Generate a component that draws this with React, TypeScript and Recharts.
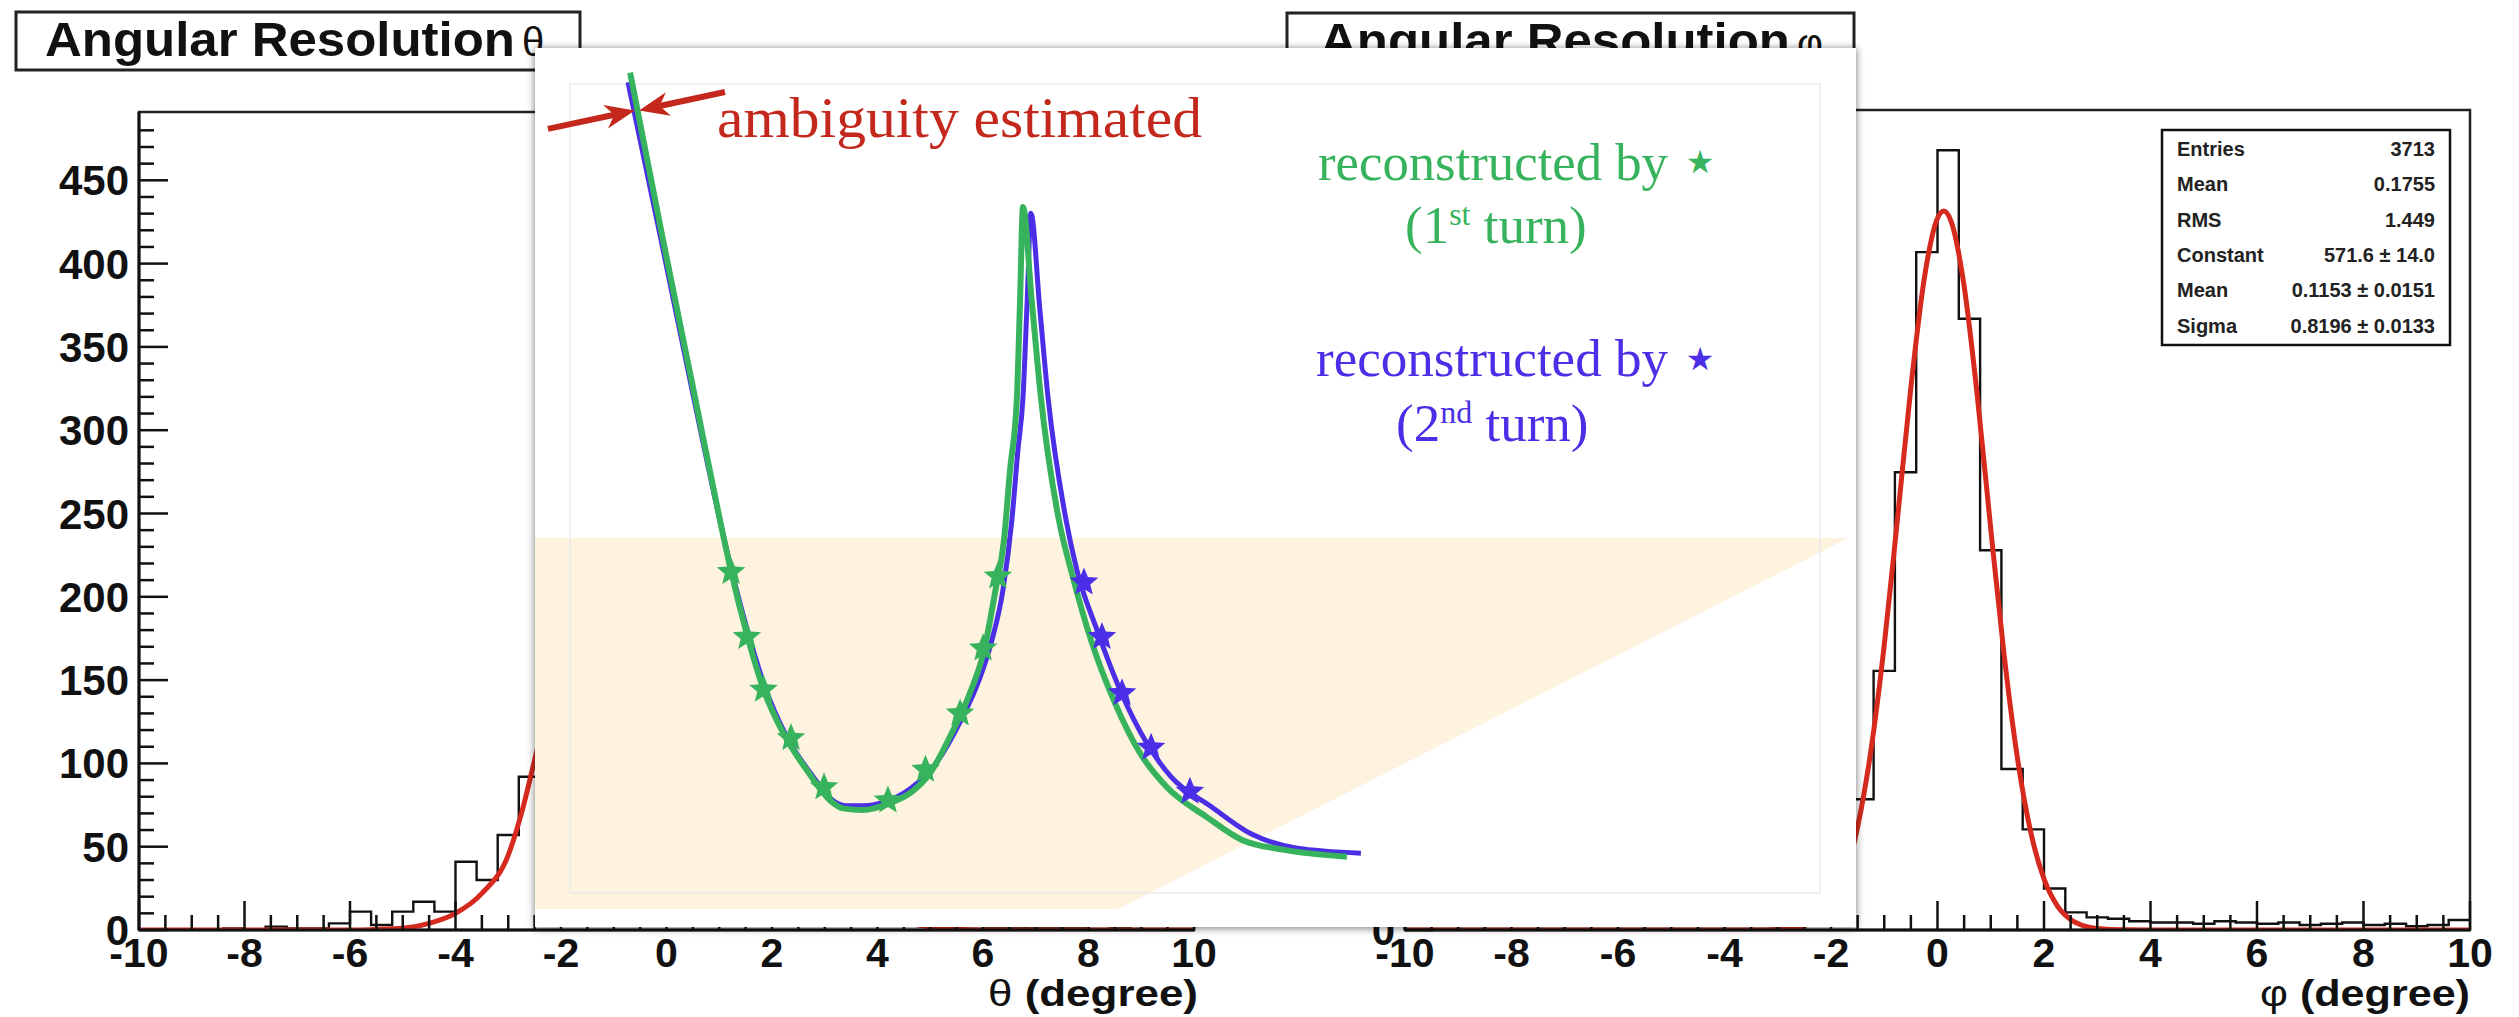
import React from "react";
import {
  Area,
  ComposedChart,
  Line,
  ReferenceArea,
  ReferenceLine,
  Scatter,
  XAxis,
  YAxis,
} from "recharts";

// ---- histogram data (ROOT style, 50 bins of width 0.4 over [-10, 10]) ----
const binLow = [
  -10, -9.6, -9.2, -8.8, -8.4, -8, -7.6, -7.2, -6.8, -6.4, -6, -5.6, -5.2, -4.8, -4.4, -4, -3.6, -3.2, -2.8, -2.4,
  -2, -1.6, -1.2, -0.8, -0.4, 0, 0.4, 0.8, 1.2, 1.6, 2, 2.4, 2.8, 3.2, 3.6, 4, 4.4, 4.8, 5.2, 5.6, 6, 6.4, 6.8,
  7.2, 7.6, 8, 8.4, 8.8, 9.2, 9.6,
];
const thetaCounts = [
  0, 0, 0, 0, 1, 0, 2, 1, 1, 4, 11, 3, 11, 17, 11, 41, 30, 57, 92, 140, 200, 262, 330, 395, 448, 467, 430, 370,
  300, 228, 160, 105, 62, 35, 20, 12, 8, 5, 4, 3, 2, 2, 1, 1, 1, 0, 1, 0, 0, 0,
];
const phiCounts = [
  5, 4, 6, 5, 4, 6, 5, 7, 6, 8, 7, 6, 9, 8, 10, 9, 12, 14, 18, 26, 45, 104, 206, 364, 539, 620, 486, 302, 128, 80,
  33, 14, 10, 9, 7, 6, 6, 5, 7, 6, 5, 6, 4, 5, 6, 4, 5, 3, 4, 8,
];

// gaussian fit curves
const fitX = [
  -10, -6, -5.5, -5, -4.5, -4, -3.5, -3, -2.75, -2.5, -2.25, -2, -1.75, -1.5, -1.25, -1, -0.75, -0.5, -0.25, 0,
  0.12, 0.25, 0.5, 0.75, 1, 1.25, 1.5, 1.75, 2, 2.25, 2.5, 2.75, 3, 3.5, 4, 4.5, 5, 5.5, 6, 10,
];
const thetaFit = [
  0, 0, 0.3, 1, 4, 10, 22, 45, 70, 102, 135, 170, 212, 255, 298, 340, 375, 405, 422, 430, 432, 430, 415, 392, 360,
  322, 280, 237, 195, 155, 120, 90, 65, 32, 14, 5, 2, 0.5, 0, 0,
];
const phiFit = [
  0, 0, 0, 0, 0, 0, 0, 0.4, 1.3, 3.5, 8.9, 20.5, 42.9, 82, 142.8, 226.6, 327.5, 431.4, 517.6, 566, 571.6, 564, 512,
  423.6, 319, 219, 137, 78, 40.6, 19.2, 8.3, 3.3, 1.2, 0.1, 0, 0, 0, 0, 0, 0,
];

const xTicks = Array.from({ length: 41 }, (_, i) => -10 + i * 0.5);
const thetaYTicks = Array.from({ length: 49 }, (_, i) => i * 10);
const phiYTicks = Array.from({ length: 33 }, (_, i) => i * 20);
// only the "0" of the phi axis peeks out from under the inset
const phiYLabels = [0];

const statLabels = ["Entries", "Mean", "RMS", "Constant", "Mean", "Sigma"];
const statValues = ["3713", "0.1755", "1.449", "571.6 \u00b1 14.0", "0.1153 \u00b1 0.0151", "0.8196 \u00b1 0.0133"];

// ---- inset (arbitrary units: x 0..50, y 0..100) ----
const firstTurnCurve = [
  [3.6, 97.2], [4.81, 78.7], [6.06, 60.2], [7.0, 46.3], [7.42, 40.5], [8.02, 33.3], [8.63, 27.2], [9.39, 22.1],
  [10.37, 17.5], [11.17, 14.4], [11.66, 13.5], [12.41, 13.3], [13.44, 14.1], [14.27, 15.4], [14.95, 17.5],
  [15.78, 22.1], [16.46, 26.6], [17.0, 31.5], [17.41, 38.0], [17.75, 44.0], [17.98, 52.0], [18.24, 60.2],
  [18.36, 71.3], [18.47, 81.9], [18.8, 71.3], [19.15, 60.2], [19.83, 46.3], [20.36, 39.8], [21.04, 32.7],
  [21.95, 25.5], [22.9, 19.8], [23.92, 15.9], [25.43, 12.5], [26.76, 9.9], [28.31, 8.8], [30.73, 8.0],
];
const secondTurnCurve = [
  [3.52, 96.1], [4.77, 78.2], [6.02, 60.0], [7.04, 45.7], [7.49, 40.0], [8.1, 33.1], [8.74, 27.0], [9.5, 21.8],
  [10.48, 17.3], [11.32, 14.3], [11.77, 13.8], [12.41, 13.8], [13.29, 14.3], [14.19, 15.7], [15.1, 18.3],
  [16.12, 23.5], [16.81, 28.1], [17.3, 32.7], [17.71, 38.3], [18.05, 46.3], [18.28, 54.3], [18.47, 60.2],
  [18.63, 71.3], [18.77, 81.2], [19.11, 70.2], [19.42, 60.2], [20.1, 46.3], [20.51, 40.6], [21.27, 33.8],
  [22.14, 27.0], [23.16, 20.9], [24.07, 17.1], [25.59, 13.7], [27.1, 10.6], [28.8, 9.0], [31.26, 8.4],
];
const firstTurnStars = [
  [7.42, 40.4], [8.02, 33.0], [8.65, 27.0], [9.69, 21.5], [10.94, 15.9], [13.36, 14.4], [14.78, 17.9],
  [16.09, 24.3], [16.96, 31.7], [17.52, 39.9],
];
const secondTurnStars = [[20.78, 39.2], [21.46, 33.0], [22.22, 26.6], [23.32, 20.4], [24.79, 15.4]];

const bandX = [0, 22.07, 49.7];
const bandLow = [2.05, 2.05, 44.25];
const bandHigh = [44.25, 44.25, 44.25];

// arrows pointing at the gap between the two curves: [tailX, tailY, tipX, tipY]
const ambiguityArrows = [
  [0.49, 90.8, 3.78, 92.9],
  [7.19, 95.0, 3.94, 92.9],
];
const insetFrame = [1.32, 48.64, 3.87, 95.9];

const SANS = '"Liberation Sans", Arial, Helvetica, sans-serif';
const SERIF = '"Liberation Serif", "Times New Roman", serif';
const INK = "#111";
const FIT_RED = "#d62a1e";
const GREEN = "#37b35d";
const BLUE = "#4a2fe6";
const ANNOT_RED = "#c4271b";
const H = 1017;

const toXY = (pairs: number[][]) => pairs.map(([x, y]) => ({ x, y }));

function xTick(p: any) {
  const { x, y, payload } = p;
  const v = payload.value;
  const major = Math.abs(v % 2) < 1e-9;
  return (
    <g>
      <line x1={x} y1={y} x2={x} y2={y - (major ? 29 : 15)} stroke={INK} strokeWidth={2.5} />
      {major && (
        <text x={x} y={y + 37} textAnchor="middle" fontFamily={SANS} fontWeight={700} fontSize={41} fill={INK}>
          {v}
        </text>
      )}
    </g>
  );
}

function makeYTick(majorStep: number, labels: number[] | null) {
  return (p: any) => {
    const { x, y, payload } = p;
    const v = payload.value;
    const major = v % majorStep === 0;
    const showLabel = major && (labels === null || labels.includes(v));
    return (
      <g>
        <line x1={x} y1={y} x2={x + (major ? 29 : 15)} y2={y} stroke={INK} strokeWidth={2.5} />
        {showLabel && (
          <text x={x - 10} y={y + 15} textAnchor="end" fontFamily={SANS} fontWeight={700} fontSize={42} fill={INK}>
            {v}
          </text>
        )}
      </g>
    );
  };
}

function HistPanel(props: {
  left: number;
  width: number;
  top: number;
  right: number;
  yAxisWidth: number;
  counts: number[];
  fit: number[];
  yMax: number;
  yTicks: number[];
  majorStep: number;
  yLabels: number[] | null;
}) {
  const { left, width, top, right, yAxisWidth, counts, fit, yMax, yTicks, majorStep, yLabels } = props;
  const steps = binLow.map((x, i) => ({ x, y: counts[i] }));
  steps.push({ x: 10, y: counts[counts.length - 1] });
  const fitData = fitX.map((x, i) => ({ x, y: fit[i] }));
  return (
    <div style={{ position: "absolute", left, top: 0, width, height: H }}>
      <ComposedChart width={width} height={H} margin={{ top, right, bottom: 27, left: 0 }}>
        <XAxis
          type="number"
          dataKey="x"
          domain={[-10, 10]}
          ticks={xTicks}
          interval={0}
          tickSize={0}
          tickMargin={0}
          tickLine={false}
          tick={xTick}
          axisLine={{ stroke: INK, strokeWidth: 3 }}
          height={60}
          allowDataOverflow
        />
        <YAxis
          type="number"
          domain={[0, yMax]}
          ticks={yTicks}
          interval={0}
          tickSize={0}
          tickMargin={0}
          tickLine={false}
          tick={makeYTick(majorStep, yLabels)}
          axisLine={{ stroke: INK, strokeWidth: 3 }}
          width={yAxisWidth}
          allowDataOverflow
        />
        <ReferenceArea x1={-10} x2={10} y1={0} y2={yMax} fill="none" stroke="#222" strokeWidth={2.5} />
        <Line data={steps} dataKey="y" type="stepAfter" stroke={INK} strokeWidth={2.4} dot={false} isAnimationActive={false} />
        <Line data={fitData} dataKey="y" type="monotone" stroke={FIT_RED} strokeWidth={5} dot={false} isAnimationActive={false} />
      </ComposedChart>
    </div>
  );
}

function starShape(color: string) {
  return (p: any) => {
    const { cx, cy } = p;
    const pts: string[] = [];
    for (let i = 0; i < 10; i++) {
      const r = i % 2 === 0 ? 15 : 6.6;
      const a = -Math.PI / 2 + (i * Math.PI) / 5;
      pts.push(`${cx + r * Math.cos(a)},${cy + r * Math.sin(a)}`);
    }
    return <polygon points={pts.join(" ")} fill={color} />;
  };
}

function arrowShape(p: any) {
  const { x1, y1, x2, y2 } = p;
  const dx = x2 - x1;
  const dy = y2 - y1;
  const len = Math.hypot(dx, dy) || 1;
  const ux = dx / len;
  const uy = dy / len;
  const bx = x2 - ux * 30;
  const by = y2 - uy * 30;
  const nx = x2 - ux * 21;
  const ny = y2 - uy * 21;
  const px = -uy * 12;
  const py = ux * 12;
  return (
    <g>
      <line x1={x1} y1={y1} x2={nx} y2={ny} stroke={ANNOT_RED} strokeWidth={6} />
      <polygon points={`${x2},${y2} ${bx + px},${by + py} ${nx},${ny} ${bx - px},${by - py}`} fill={ANNOT_RED} />
    </g>
  );
}

function Inset() {
  const band = bandX.map((x, i) => ({ x, band: [bandLow[i], bandHigh[i]] }));
  return (
    <div
      style={{
        position: "absolute",
        left: 535,
        top: 48,
        width: 1321,
        height: 879,
        background: "#fff",
        boxShadow: "0 1px 7px 1px rgba(0,0,0,0.45)",
      }}
    >
      <ComposedChart width={1321} height={879} margin={{ top: 0, right: 0, bottom: 0, left: 0 }}>
        <XAxis type="number" dataKey="x" domain={[0, 50]} hide allowDataOverflow />
        <YAxis type="number" dataKey="y" domain={[0, 100]} hide allowDataOverflow />
        <Area data={band} dataKey="band" type="linear" stroke="none" fill="#fdf3de" fillOpacity={1} isAnimationActive={false} />
        <ReferenceArea
          x1={insetFrame[0]}
          x2={insetFrame[1]}
          y1={insetFrame[2]}
          y2={insetFrame[3]}
          fill="none"
          stroke="#ebebeb"
          strokeWidth={1.5}
        />
        <Line data={toXY(secondTurnCurve)} dataKey="y" type="monotone" stroke={BLUE} strokeWidth={5} dot={false} isAnimationActive={false} />
        <Line data={toXY(firstTurnCurve)} dataKey="y" type="monotone" stroke={GREEN} strokeWidth={6} dot={false} isAnimationActive={false} />
        <Scatter data={toXY(firstTurnStars)} dataKey="y" shape={starShape(GREEN)} isAnimationActive={false} />
        <Scatter data={toXY(secondTurnStars)} dataKey="y" shape={starShape(BLUE)} isAnimationActive={false} />
        {ambiguityArrows.map((a, i) => (
          <ReferenceLine
            key={i}
            segment={[
              { x: a[0], y: a[1] },
              { x: a[2], y: a[3] },
            ]}
            shape={arrowShape}
          />
        ))}
      </ComposedChart>
    </div>
  );
}

export default function App() {
  return (
    <div
      style={{
        position: "absolute",
        left: 0,
        top: 0,
        width: 2519,
        height: H,
        background: "#fff",
        overflow: "hidden",
      }}
    >
      <HistPanel
        left={0}
        width={1260}
        top={112}
        right={66}
        yAxisWidth={139}
        counts={thetaCounts}
        fit={thetaFit}
        yMax={491}
        yTicks={thetaYTicks}
        majorStep={50}
        yLabels={null}
      />
      <HistPanel
        left={1260}
        width={1259}
        top={110}
        right={49}
        yAxisWidth={145}
        counts={phiCounts}
        fit={phiFit}
        yMax={652}
        yTicks={phiYTicks}
        majorStep={100}
        yLabels={phiYLabels}
      />

      {/* titles, stats box and axis titles */}
      <svg width={2519} height={H} style={{ position: "absolute", left: 0, top: 0, pointerEvents: "none" }}>
        <rect x={16} y={12} width={564} height={58} fill="#fff" stroke="#222" strokeWidth={3} />
        <text x={45} y={56} fontFamily={SANS} fontWeight={700} fontSize={48} fill={INK} textLength={470} lengthAdjust="spacingAndGlyphs">
          Angular Resolution
        </text>
        <text x={522} y={56} fontFamily={SANS} fontSize={40} fill={INK}>
          θ
        </text>

        <rect x={1287} y={13} width={567} height={58} fill="#fff" stroke="#222" strokeWidth={3} />
        <text x={1320} y={57} fontFamily={SANS} fontWeight={700} fontSize={48} fill={INK} textLength={470} lengthAdjust="spacingAndGlyphs">
          Angular Resolution
        </text>
        <text x={1797} y={57} fontFamily={SANS} fontSize={40} fill={INK}>
          φ
        </text>

        <rect x={2162} y={130} width={288} height={215} fill="#fff" stroke={INK} strokeWidth={2.5} />
        {statLabels.map((s, i) => (
          <text key={`l${i}`} x={2177} y={156 + i * 35.3} fontFamily={SANS} fontWeight={700} fontSize={20} fill="#222">
            {s}
          </text>
        ))}
        {statValues.map((s, i) => (
          <text key={`v${i}`} x={2435} y={156 + i * 35.3} textAnchor="end" fontFamily={SANS} fontWeight={700} fontSize={20} fill="#222">
            {s}
          </text>
        ))}

        <text x={988} y={1006} fontFamily={SANS} fontWeight={700} fontSize={36} fill={INK} textLength={210} lengthAdjust="spacingAndGlyphs">
          <tspan fontWeight={400}>θ</tspan> (degree)
        </text>
        <text x={2260} y={1006} fontFamily={SANS} fontWeight={700} fontSize={36} fill={INK} textLength={210} lengthAdjust="spacingAndGlyphs">
          <tspan fontWeight={400}>φ</tspan> (degree)
        </text>
      </svg>

      <Inset />

      {/* annotation texts on the inset */}
      <svg width={2519} height={H} style={{ position: "absolute", left: 0, top: 0, pointerEvents: "none" }}>
        <text x={717} y={137} fontFamily={SERIF} fontSize={58} fill={ANNOT_RED} textLength={485} lengthAdjust="spacingAndGlyphs">
          ambiguity estimated
        </text>

        <text x={1318} y={180} fontFamily={SERIF} fontSize={53} fill={GREEN} textLength={350} lengthAdjust="spacingAndGlyphs">
          reconstructed by
        </text>
        <text x={1700} y={173} textAnchor="middle" fontFamily='"DejaVu Sans", sans-serif' fontSize={32} fill={GREEN}>
          ★
        </text>
        <text x={1405} y={243} fontFamily={SERIF} fontSize={53} fill={GREEN}>
          (1<tspan fontSize={32} dy={-18}>st</tspan>
          <tspan dy={18}> turn)</tspan>
        </text>

        <text x={1316} y={376} fontFamily={SERIF} fontSize={53} fill={BLUE} textLength={352} lengthAdjust="spacingAndGlyphs">
          reconstructed by
        </text>
        <text x={1700} y={370} textAnchor="middle" fontFamily='"DejaVu Sans", sans-serif' fontSize={32} fill={BLUE}>
          ★
        </text>
        <text x={1396} y={441} fontFamily={SERIF} fontSize={53} fill={BLUE}>
          (2<tspan fontSize={32} dy={-18}>nd</tspan>
          <tspan dy={18}> turn)</tspan>
        </text>
      </svg>
    </div>
  );
}
